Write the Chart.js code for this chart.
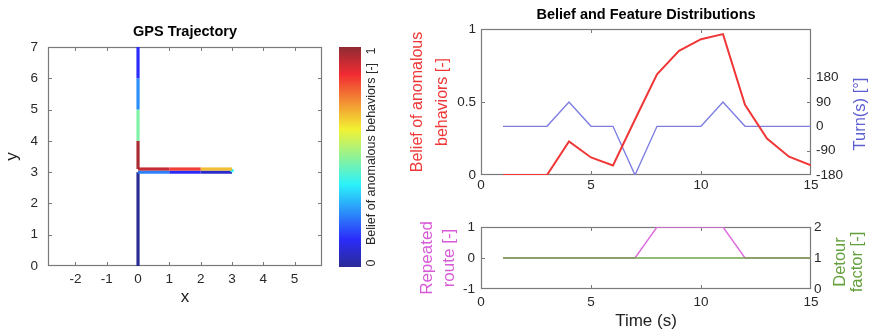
<!DOCTYPE html>
<html>
<head>
<meta charset="utf-8">
<script src="https://cdn.jsdelivr.net/npm/chart.js@4"></script>
<style>
  body { margin: 0; background: #fff; }
  #wrap { position: relative; width: 870px; height: 336px; }
  canvas { position: absolute; }
</style>
</head>
<body>
<div id="wrap">
  <canvas id="gpsChart" width="330" height="336" style="left:0;top:0"></canvas>
  <canvas id="cbarChart" width="70" height="336" style="left:330px;top:0"></canvas>
  <canvas id="beliefChart" width="470" height="195" style="left:400px;top:0"></canvas>
  <canvas id="featureChart" width="470" height="141" style="left:400px;top:195px"></canvas>
</div>
<script>
const FONT = "'Liberation Sans', Arial, sans-serif";
Chart.defaults.font.family = FONT;
Chart.defaults.color = '#282828';
Chart.defaults.animation = false;

// --- data ---
const time = [1, 2, 3, 4, 5, 6, 7, 8, 9, 10, 11, 12, 13, 14, 15];
const belief = [0, 0, 0, 0.23, 0.12, 0.065, 0.38, 0.69, 0.85, 0.93, 0.965, 0.48, 0.25, 0.125, 0.067];
const turn = [0, 0, 0, 90, 0, 0, -180, 0, 0, 0, 90, 0, 0, 0, 0];
const repeated = [0, 0, 0, 0, 0, 0, 0, 1, 1, 1, 1, 0, 0, 0, 0];
const detour = [1, 1, 1, 1, 1, 1, 1, 1, 1, 1, 1, 1, 1, 1, 1];

// GPS points, one per time step
const gpsX = [0, 0, 0, 0, 1, 2, 3, 3, 2, 1, 0, 0, 0, 0, 0];
const gpsY = [0, 1, 2, 3, 3, 3, 3, 3.1, 3.1, 3.1, 3.1, 4, 5, 6, 7];

const gpsXTicks = [-2, -1, 0, 1, 2, 3, 4, 5];
const gpsYTicks = [0, 1, 2, 3, 4, 5, 6, 7];
const timeTicks = [0, 5, 10, 15];
const beliefTicks = [0, 0.5, 1];
const turnTicks = [-180, -90, 0, 90, 180];
const repeatTicks = [-1, 0, 1];
const detourTicks = [0, 1, 2];
const cbarTicks = [0, 1];

// jet colormap, washed out a bit like the picture
function jet(v) {
  const c = (x, lift) => {
    const k = Math.max(0, Math.min(1, 1.5 - Math.abs(4 * v - x)));
    return Math.round(255 * (0.78 * k + lift));
  };
  return `rgb(${c(3, 0.17)},${c(2, 0.17)},${c(1, 0.2)})`;
}

const fixW = w => s => { s.width = w; };
const fixH = h => s => { s.height = h; };
const useTicks = arr => s => { s.ticks = arr.map(v => ({ value: v })); };
const tickStr = v => String(v);
const TICK_FONT = { size: 13.5 };

// box around plot + inward tick marks (matlab look)
const framePlugin = {
  id: 'frame',
  beforeDatasetsDraw(chart, args, opts) {
    const { ctx, chartArea: a } = chart;
    ctx.save();
    ctx.strokeStyle = opts.color || '#7a7a7a';
    ctx.lineWidth = 1;
    ctx.beginPath();
    (opts.ticks || []).forEach(t => {
      const s = chart.scales[t.scale];
      s.ticks.forEach(tk => {
        const p = Math.round(s.getPixelForValue(tk.value)) + 0.5;
        if (p < a.left + 2 || p > a.right - 2) { if (s.isHorizontal()) return; }
        if (p < a.top + 2 || p > a.bottom - 2) { if (!s.isHorizontal()) return; }
        t.sides.forEach(side => {
          if (side === 'bottom') { ctx.moveTo(p, a.bottom); ctx.lineTo(p, a.bottom - 4); }
          if (side === 'top') { ctx.moveTo(p, a.top); ctx.lineTo(p, a.top + 4); }
          if (side === 'left') { ctx.moveTo(a.left, p); ctx.lineTo(a.left + 4, p); }
          if (side === 'right') { ctx.moveTo(a.right, p); ctx.lineTo(a.right - 4, p); }
        });
      });
    });
    ctx.stroke();
    ctx.lineWidth = opts.width || 1.2;
    ctx.strokeRect(a.left + 0.5, a.top + 0.5, a.width - 1, a.height - 1);
    ctx.restore();
  }
};

// rotated labels (read bottom to top) for the right hand side
const sideTitlePlugin = {
  id: 'sideTitle',
  afterDraw(chart, args, opts) {
    const { ctx } = chart;
    (opts.items || []).forEach(it => {
      ctx.save();
      ctx.translate(it.x, it.y);
      ctx.rotate(-Math.PI / 2);
      ctx.font = `${it.size}px ${FONT}`;
      ctx.fillStyle = it.color;
      ctx.textAlign = 'center';
      ctx.textBaseline = 'middle';
      it.lines.forEach((l, i) => ctx.fillText(l, 0, i * (it.gap || 0)));
      ctx.restore();
    });
  }
};

Chart.register(framePlugin, sideTitlePlugin);

const noAxisLines = { grid: { display: false, drawTicks: false, tickLength: 0 }, border: { display: false } };

// GPS trajectory
new Chart(document.getElementById('gpsChart'), {
  type: 'scatter',
  data: {
    datasets: [{
      data: gpsX.map((x, i) => ({ x, y: gpsY[i] })),
      showLine: true,
      pointRadius: 0,
      borderWidth: 3.2,
      borderColor: jet(0),
      segment: { borderColor: c => jet(belief[c.p0DataIndex]) }
    }]
  },
  options: {
    responsive: false,
    layout: { padding: { left: 0, right: 8, top: 0, bottom: 0 } },
    plugins: {
      legend: { display: false },
      tooltip: { enabled: false },
      title: {
        display: true, text: 'GPS Trajectory', fullSize: false, color: '#000',
        font: { size: 14.5, weight: 'bold', lineHeight: 1.2 }, padding: { top: 23.3, bottom: 6.3 }
      },
      frame: { ticks: [{ scale: 'x', sides: ['bottom', 'top'] }, { scale: 'y', sides: ['left', 'right'] }] }
    },
    scales: {
      x: {
        type: 'linear', min: -2.875, max: 5.875, ...noAxisLines,
        afterBuildTicks: useTicks(gpsXTicks), afterFit: fixH(70),
        ticks: { padding: 4.9, font: TICK_FONT, callback: tickStr },
        title: { display: true, text: 'x', color: '#222', font: { size: 17 }, padding: { bottom: 28 } }
      },
      y: {
        type: 'linear', min: 0, max: 7, ...noAxisLines,
        afterBuildTicks: useTicks(gpsYTicks), afterFit: fixW(48),
        ticks: { padding: 10, font: TICK_FONT, callback: tickStr },
        title: { display: true, text: 'y', color: '#222', font: { size: 17 }, padding: { top: 2 } }
      }
    }
  }
});

// colorbar
new Chart(document.getElementById('cbarChart'), {
  type: 'bar',
  data: {
    labels: [''],
    datasets: [{
      data: [[cbarTicks[0], cbarTicks[1]]],
      barPercentage: 1, categoryPercentage: 1, borderWidth: 0,
      backgroundColor(c) {
        const a = c.chart.chartArea;
        if (!a) return null;
        const g = c.chart.ctx.createLinearGradient(0, a.bottom, 0, a.top);
        for (let i = 0; i <= 16; i++) g.addColorStop(i / 16, jet(i / 16));
        return g;
      }
    }]
  },
  options: {
    responsive: false,
    layout: { padding: { left: 9, right: 39, top: 47, bottom: 69 } },
    scales: { x: { display: false }, y: { display: false, min: 0, max: 1 } },
    plugins: {
      legend: { display: false },
      tooltip: { enabled: false },
      frame: { color: '#555', width: 1 },
      sideTitle: {
        items: [
          { lines: [String(cbarTicks[0])], x: 42, y: 263, size: 12.5, color: '#282828' },
          { lines: [String(cbarTicks[1])], x: 42, y: 51, size: 12.5, color: '#282828' },
          { lines: ['Belief of anomalous behaviors [-]'], x: 42, y: 154, size: 12.5, color: '#282828' }
        ]
      }
    }
  }
});

// belief + turn
const RED = 'rgb(240,55,55)';
const BLUE = 'rgb(125,125,228)';
new Chart(document.getElementById('beliefChart'), {
  type: 'line',
  data: {
    datasets: [
      { data: time.map((t, i) => ({ x: t, y: belief[i] })), yAxisID: 'y', borderColor: RED, borderWidth: 2, pointRadius: 0, order: 0 },
      { data: time.map((t, i) => ({ x: t, y: turn[i] })), yAxisID: 'y2', borderColor: BLUE, borderWidth: 1.4, pointRadius: 0, order: 1 }
    ]
  },
  options: {
    responsive: false,
    layout: { padding: 0 },
    plugins: {
      legend: { display: false },
      tooltip: { enabled: false },
      title: {
        display: true, text: 'Belief and Feature Distributions', fullSize: false, color: '#000',
        font: { size: 14.5, weight: 'bold', lineHeight: 1.2 }, padding: { top: 6.3, bottom: 5.3 }
      },
      frame: { ticks: [{ scale: 'x', sides: ['bottom', 'top'] }, { scale: 'y', sides: ['left'] }, { scale: 'y2', sides: ['right'] }] },
      sideTitle: { items: [{ lines: ['Turn(s) [°]'], x: 460, y: 114, size: 16.5, color: 'rgb(95,95,212)' }] }
    },
    scales: {
      x: {
        type: 'linear', min: 0, max: 15, ...noAxisLines,
        afterBuildTicks: useTicks(timeTicks), afterFit: fixH(20),
        ticks: { padding: 1.9, font: TICK_FONT, callback: tickStr }
      },
      y: {
        position: 'left', min: 0, max: 1, ...noAxisLines,
        afterBuildTicks: useTicks(beliefTicks), afterFit: fixW(81),
        ticks: { padding: 5, font: TICK_FONT, callback: tickStr },
        title: {
          display: true, text: ['Belief of anomalous', 'behaviors [-]'], color: RED,
          font: { size: 16, lineHeight: 1.5625 }, padding: { top: 5.5 }
        }
      },
      y2: {
        position: 'right', min: -180, max: 360, ...noAxisLines,
        afterBuildTicks: useTicks(turnTicks), afterFit: fixW(59),
        ticks: { padding: 5, font: TICK_FONT, callback: tickStr }
      }
    }
  }
});

// repeated route + detour factor
const MAGENTA = 'rgb(222,105,222)';
const GREEN = 'rgb(110,165,70)';
new Chart(document.getElementById('featureChart'), {
  type: 'line',
  data: {
    datasets: [
      { data: time.map((t, i) => ({ x: t, y: detour[i] })), yAxisID: 'y2', borderColor: GREEN, borderWidth: 1.4, pointRadius: 0, order: 0 },
      { data: time.map((t, i) => ({ x: t, y: repeated[i] })), yAxisID: 'y', borderColor: MAGENTA, borderWidth: 1.4, pointRadius: 0, order: 1 }
    ]
  },
  options: {
    responsive: false,
    layout: { padding: { top: 32, left: 0, right: 0, bottom: 0 } },
    plugins: {
      legend: { display: false },
      tooltip: { enabled: false },
      frame: { ticks: [{ scale: 'x', sides: ['bottom', 'top'] }, { scale: 'y', sides: ['left'] }, { scale: 'y2', sides: ['right'] }] },
      sideTitle: { items: [{ lines: ['Detour', 'factor [-]'], x: 440, y: 67, gap: 17, size: 16.5, color: 'rgb(100,160,60)' }] }
    },
    scales: {
      x: {
        type: 'linear', min: 0, max: 15, ...noAxisLines,
        afterBuildTicks: useTicks(timeTicks), afterFit: fixH(47),
        ticks: { padding: 4.9, font: TICK_FONT, callback: tickStr },
        title: { display: true, text: 'Time (s)', color: '#222', font: { size: 17 }, padding: { bottom: 4.8 } }
      },
      y: {
        position: 'left', min: -1, max: 1, ...noAxisLines,
        afterBuildTicks: useTicks(repeatTicks), afterFit: fixW(81),
        ticks: { padding: 6, font: TICK_FONT, callback: tickStr },
        title: {
          display: true, text: ['Repeated', 'route [-]'], color: 'rgb(215,90,215)',
          font: { size: 17, lineHeight: 1.294 }, padding: { top: 16 }
        }
      },
      y2: {
        position: 'right', min: 0, max: 2, ...noAxisLines,
        afterBuildTicks: useTicks(detourTicks), afterFit: fixW(59),
        ticks: { padding: 3, font: TICK_FONT, callback: tickStr }
      }
    }
  }
});
</script>
</body>
</html>
